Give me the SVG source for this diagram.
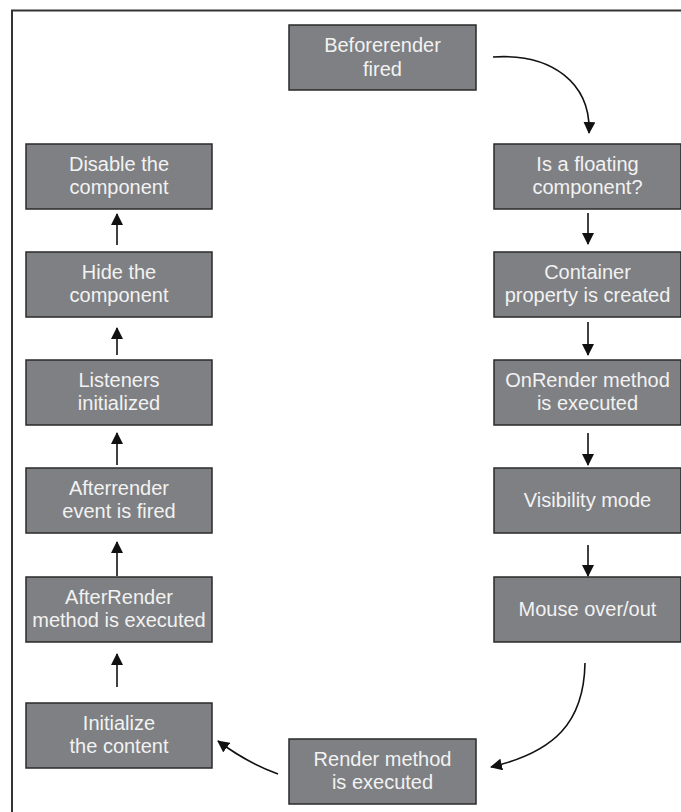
<svg xmlns="http://www.w3.org/2000/svg" width="681" height="812" viewBox="0 0 681 812">
  <style>
    .box { fill: #7f8083; stroke: #2a2a2a; stroke-width: 1.5; }
    .lbl { fill: #f2f2f2; font-family: "Liberation Sans", Arial, sans-serif; font-size: 20px; text-anchor: middle; }
    .edge { fill: none; stroke: #111; stroke-width: 1.6; marker-end: url(#head); }
    .frame { fill: none; stroke: #333; stroke-width: 2; }
  </style>
  <defs>
    <marker id="head" viewBox="0 0 12 12" refX="11" refY="6" markerWidth="12" markerHeight="12" markerUnits="userSpaceOnUse" orient="auto">
      <path d="M0,0 L12,6 L0,12 Z" fill="#111"/>
    </marker>
  </defs>

  <rect width="681" height="812" fill="#fff"/>
  <path class="frame" d="M12,812 V10.5 H681"/>

  <!-- right column -->
  <g id="beforerender">
    <rect class="box" x="289" y="25" width="187" height="65"/>
    <text class="lbl" x="382.5" y="52">Beforerender</text>
    <text class="lbl" x="382.5" y="76">fired</text>
  </g>
  <g id="floating">
    <rect class="box" x="494" y="144" width="187" height="65"/>
    <text class="lbl" x="587.5" y="171">Is a floating</text>
    <text class="lbl" x="587.5" y="194">component?</text>
  </g>
  <g id="container">
    <rect class="box" x="494" y="252" width="187" height="65"/>
    <text class="lbl" x="587.5" y="279">Container</text>
    <text class="lbl" x="587.5" y="302">property is created</text>
  </g>
  <g id="onrender">
    <rect class="box" x="494" y="360" width="187" height="65"/>
    <text class="lbl" x="587.5" y="387">OnRender method</text>
    <text class="lbl" x="587.5" y="410">is executed</text>
  </g>
  <g id="visibility">
    <rect class="box" x="494" y="468" width="187" height="65"/>
    <text class="lbl" x="587.5" y="507">Visibility mode</text>
  </g>
  <g id="mouse">
    <rect class="box" x="494" y="577" width="187" height="65"/>
    <text class="lbl" x="587.5" y="616">Mouse over/out</text>
  </g>
  <g id="render">
    <rect class="box" x="289" y="739" width="187" height="65"/>
    <text class="lbl" x="382.5" y="766">Render method</text>
    <text class="lbl" x="382.5" y="789">is executed</text>
  </g>

  <!-- left column -->
  <g id="initialize">
    <rect class="box" x="26" y="703" width="186" height="65"/>
    <text class="lbl" x="119" y="730">Initialize</text>
    <text class="lbl" x="119" y="753">the content</text>
  </g>
  <g id="afterrender-method">
    <rect class="box" x="26" y="577" width="186" height="65"/>
    <text class="lbl" x="119" y="604">AfterRender</text>
    <text class="lbl" x="119" y="627">method is executed</text>
  </g>
  <g id="afterrender-event">
    <rect class="box" x="26" y="468" width="186" height="65"/>
    <text class="lbl" x="119" y="495">Afterrender</text>
    <text class="lbl" x="119" y="518">event is fired</text>
  </g>
  <g id="listeners">
    <rect class="box" x="26" y="360" width="186" height="65"/>
    <text class="lbl" x="119" y="387">Listeners</text>
    <text class="lbl" x="119" y="410">initialized</text>
  </g>
  <g id="hide">
    <rect class="box" x="26" y="252" width="186" height="65"/>
    <text class="lbl" x="119" y="279">Hide the</text>
    <text class="lbl" x="119" y="302">component</text>
  </g>
  <g id="disable">
    <rect class="box" x="26" y="144" width="186" height="65"/>
    <text class="lbl" x="119" y="171">Disable the</text>
    <text class="lbl" x="119" y="194">component</text>
  </g>

  <!-- connectors -->
  <g id="connectors">
    <path class="edge" d="M493,57 C553,53 591,84 589,133"/>
    <path class="edge" d="M588,213 V244"/>
    <path class="edge" d="M588,322 V355"/>
    <path class="edge" d="M588,433 V465"/>
    <path class="edge" d="M588,545 V576"/>
    <path class="edge" d="M585,663 C584,722 555,752 491,767"/>
    <path class="edge" d="M278,774 C256,766 238,756 218,741"/>
    <path class="edge" d="M117,687 V654"/>
    <path class="edge" d="M117,576 V542"/>
    <path class="edge" d="M117,465 V433"/>
    <path class="edge" d="M117,355 V328"/>
    <path class="edge" d="M117,245 V214"/>
  </g>
</svg>
